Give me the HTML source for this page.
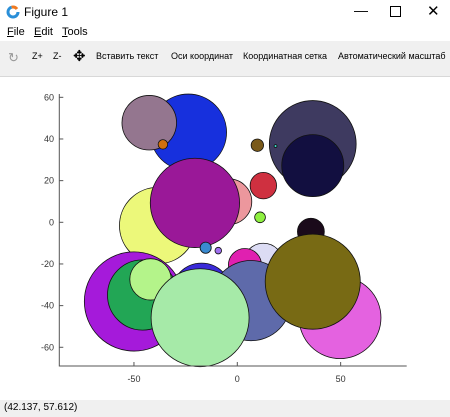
<!DOCTYPE html>
<html><head><meta charset="utf-8"><style>
body{margin:0;width:450px;height:417px;overflow:hidden;background:#fff;font-family:"Liberation Sans",sans-serif;position:relative}
.t{position:absolute;font-size:11px;color:#000;white-space:nowrap}
</style></head><body>
<div style="position:absolute;left:0;top:0;width:450px;height:24px;background:#fff">
<svg style="position:absolute;left:6px;top:5px" width="14" height="14"><circle cx="7" cy="7" r="5" fill="none" stroke="#2a8fd8" stroke-width="3" stroke-dasharray="22 10"/><circle cx="7" cy="7" r="5" fill="none" stroke="#f07a20" stroke-width="3" stroke-dasharray="6 26" stroke-dashoffset="-22"/></svg>
<span class="t" style="left:24px;top:5px;font-size:12px">Figure 1</span>
<span class="t" style="left:354px;top:2px;font-size:14px">—</span>
<span style="position:absolute;left:390px;top:6px;width:9px;height:9px;border:1px solid #000"></span>
<span class="t" style="left:427px;top:2px;font-size:15px">✕</span>
</div>
<div style="position:absolute;left:0;top:24px;width:450px;height:17px">
<span class="t" style="left:7px;top:2px"><u>F</u>ile</span>
<span class="t" style="left:34px;top:2px"><u>E</u>dit</span>
<span class="t" style="left:62px;top:2px"><u>T</u>ools</span>
</div>
<div style="position:absolute;left:0;top:41px;width:450px;height:35px;background:#f0f0f0;border-bottom:1px solid #d8d8d8">
<span class="t" style="left:8px;top:9px;color:#999;font-size:13px">↻</span>
<span class="t" style="left:32px;top:10px;font-size:9px">Z+</span>
<span class="t" style="left:53px;top:10px;font-size:9px">Z-</span>
<span class="t" style="left:73px;top:6px;font-size:15px">✥</span>
<span class="t" style="left:96px;top:10px;font-size:9px">Вставить текст</span>
<span class="t" style="left:171px;top:10px;font-size:9px">Оси координат</span>
<span class="t" style="left:243px;top:10px;font-size:9px">Координатная сетка</span>
<span class="t" style="left:338px;top:10px;font-size:9px">Автоматический масштаб</span>
</div>
<svg id="chart" style="position:absolute;left:0;top:77px" width="450" height="323"></svg>
<div style="position:absolute;left:0;top:400px;width:450px;height:17px;background:#f0f0f0">
<span class="t" style="left:4px;top:2px;font-size:10px">(42.137, 57.612)</span>
</div>
<script>
const xs=[-23.7,-42.6,-36,9.7,36.5,36.5,18.5,12.6,-4,11,-38.5,-20.5,-15.3,-9.2,35.6,12.6,3.7,-50,-45.8,-42,-17.3,49.7,6.6,36.5,-18];
const ys=[43.2,47.8,37.4,37,37.6,27.2,36.6,17.6,9.9,2.4,-1.6,9.3,-12.2,-13.6,-4.5,-19.7,-20.5,-38,-34.9,-27.4,-34,-45.8,-37.6,-28.5,-45.8];
const rs=[18.5,13.2,2.3,3,21,15,0.7,6.4,11,2.6,18.5,21.6,2.7,1.6,6.5,9.7,8,24,17,10,14.5,19.8,19.4,23,23.7];
const cols=["#1730dd","#94768f","#d0700e","#7a5a1a","#3e3a60","#120f40","#40e0d0","#cf3040","#ec979d","#8ef040","#ecf87a","#9a1898","#3a8ad0","#a070f0","#1a0a1a","#dcdcf4","#e020b0","#a51ada","#22a655","#b4f48a","#3a2ad8","#e462e0","#5e6aaa","#786a14","#a6eaa8"];
const xticks=[-50,0,50];
const yticks=[60,40,20,0,-20,-40,-60];
const OY=77;
const sx=v=>237.3+v*2.067;
const sy=v=>222.3-OY-v*2.083;
const NS="http://www.w3.org/2000/svg";
const svg=document.getElementById('chart');
function mk(t,a){const e=document.createElementNS(NS,t);for(const k in a)e.setAttribute(k,a[k]);svg.appendChild(e);return e;}
for(let i=0;i<xs.length;i++){
 const c=mk('circle',{cx:sx(xs[i]),cy:sy(ys[i]),r:rs[i]*2.067,fill:cols[i],stroke:'#111','stroke-width':0.8});
 
 
}
const ax=mk('path',{d:`M59.3 ${94-OY} V${366-OY} H406.7`,fill:'none',stroke:'#555','stroke-width':1});


for(const v of xticks){
 mk('line',{x1:sx(v),x2:sx(v),y1:366-OY,y2:362-OY,stroke:'#555'});
 const t=mk('text',{x:sx(v),y:382-OY,'text-anchor':'middle','font-size':9,fill:'#333','font-family':'Liberation Sans'});
 t.textContent=v;
 
 
}
for(const v of yticks){
 mk('line',{x1:59.3,x2:63.3,y1:sy(v),y2:sy(v),stroke:'#555'});
 const t=mk('text',{x:54,y:sy(v)+3,'text-anchor':'end','font-size':9,fill:'#333','font-family':'Liberation Sans'});
 t.textContent=v;
 
 
}
</script>
</body></html>
